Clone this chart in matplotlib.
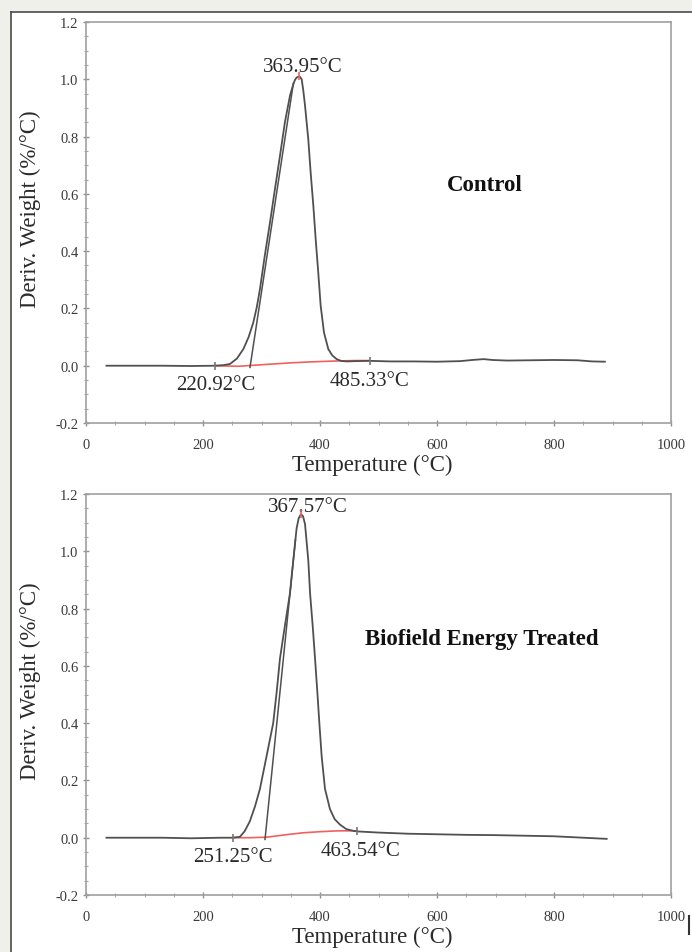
import matplotlib
matplotlib.use("Agg")
import matplotlib.pyplot as plt
from matplotlib.ticker import MultipleLocator
from matplotlib.lines import Line2D

# ---------------- data ----------------
# Control DTG curve
ctrl_T = [35, 80, 130, 180, 220, 235, 246, 258, 269, 278, 286, 292, 297.4, 305.6, 314.5,
          323, 331.6, 340, 348.7, 354, 357, 360, 363.95, 366, 368.7, 371.5, 374.4, 380,
          384, 388.6, 392.6, 397, 401.1, 406.8, 414.2, 421, 428.5, 436, 445.6, 460, 485,
          520, 560, 600, 640, 660, 680, 695, 720, 760, 800, 840, 865, 887]
ctrl_y = [0.0, 0.0, 0.0, -0.001, 0.0, 0.002, 0.006, 0.025, 0.058, 0.1, 0.151, 0.205, 0.268,
          0.384, 0.5, 0.617, 0.733, 0.85, 0.943, 0.98, 0.997, 1.006, 1.01, 1.008, 1.0,
          0.96, 0.908, 0.79, 0.675, 0.559, 0.442, 0.326, 0.21, 0.116, 0.058, 0.036, 0.023,
          0.017, 0.015, 0.016, 0.017, 0.015, 0.015, 0.014, 0.016, 0.02, 0.023, 0.02, 0.018,
          0.019, 0.02, 0.019, 0.015, 0.014]
ctrl_tan_T = [280.3, 354.4]
ctrl_tan_y = [-0.006, 0.985]
ctrl_base_T = [220.92, 260, 290, 320, 350, 380, 420, 460, 485.33]
ctrl_base_y = [0.0, -0.002, 0.002, 0.006, 0.01, 0.013, 0.016, 0.018, 0.018]
ctrl_peak = (363.95, 1.01)
ctrl_onset = 220.92
ctrl_end = 485.33

# Biofield Energy Treated DTG curve
trt_T = [35, 80, 130, 180, 230, 250, 263, 271, 280, 289, 297.4, 308.7, 320, 326, 331.6,
         340, 348.7, 354.4, 360, 363.5, 367.57, 371, 374.4, 380, 383, 387.5, 391.5, 395.4,
         398.9, 402.8, 408.5, 417, 425, 434, 445, 457, 463.54, 500, 550, 600, 650, 700,
         750, 800, 850, 890]
trt_y = [0.0, 0.0, 0.0, -0.002, 0.0, 0.0, 0.003, 0.022, 0.057, 0.11, 0.171, 0.285, 0.4,
         0.51, 0.626, 0.74, 0.854, 0.97, 1.08, 1.115, 1.13, 1.122, 1.095, 0.968, 0.854,
         0.74, 0.626, 0.51, 0.4, 0.285, 0.171, 0.1, 0.065, 0.046, 0.03, 0.024, 0.022,
         0.018, 0.014, 0.012, 0.01, 0.009, 0.007, 0.005, 0.0, -0.004]
trt_tan_T = [306, 358]
trt_tan_y = [-0.006, 1.04]
trt_base_T = [251.25, 280, 310, 340, 370, 400, 430, 463.54]
trt_base_y = [0.0, 0.0, 0.002, 0.01, 0.017, 0.021, 0.024, 0.024]
trt_peak = (367.57, 1.13)
trt_onset = 251.25
trt_end = 463.54

xticks = [0, 200, 400, 600, 800, 1000]
yticks = [-0.2, 0.0, 0.2, 0.4, 0.6, 0.8, 1.0, 1.2]
ytick_labels = ["-0.2", "0.0", "0.2", "0.4", "0.6", "0.8", "1.0", "1.2"]

# ---------------- style ----------------
plt.rcParams['font.family'] = ['Liberation Serif', 'DejaVu Serif']
W, H = 692, 953
fig = plt.figure(figsize=(W / 100, H / 100), dpi=100)
fig.patch.set_facecolor('#eff0ea')

# white inner panel with dark border (left and top visible)
fig.patches.append(plt.Rectangle((11 / W, 0), 1 - 11 / W, 1 - 13 / H, transform=fig.transFigure,
                                 facecolor='white', edgecolor='none', zorder=-10))
fig.lines.append(Line2D([11 / W, 11 / W], [0, 1 - 13 / H], transform=fig.transFigure,
                        color='#4a4a4a', lw=1.2))
fig.lines.append(Line2D([11 / W, 1], [1 - 13 / H, 1 - 13 / H], transform=fig.transFigure,
                        color='#4a4a4a', lw=1.2))
fig.lines.append(Line2D([689 / W, 689 / W], [18 / H, 36 / H], transform=fig.transFigure,
                        color='#333333', lw=1.5))

curve_col = '#505050'
red = '#f06060'
text_col = '#2a2a2a'


def panel(rect, T, y, tanT, tany, bT, by, peak, onset, end, peak_lbl, peak_lbl_pos,
          on_lbl, on_pos, end_lbl, end_pos, title, title_pos):
    ax = fig.add_axes(rect)
    ax.set_xlim(0, 1000)
    ax.set_ylim(-0.2, 1.2)
    for s in ax.spines.values():
        s.set_color('#a0a0a0')
        s.set_linewidth(1.2)
    ax.xaxis.set_minor_locator(MultipleLocator(50))
    ax.yaxis.set_minor_locator(MultipleLocator(0.05))
    ax.set_xticks(xticks)
    ax.set_yticks(yticks)
    ax.set_yticklabels(ytick_labels)
    ax.tick_params(which='major', direction='inout', length=5, width=1, color='#909090',
                   labelsize=10.5, labelcolor='#3a3a3a', pad=3)
    ax.tick_params(which='minor', direction='inout', length=3, width=0.8, color='#a8a8a8')
    ax.tick_params(axis='x', which='major', pad=8)
    ax.set_xlabel('Temperature (°C)', fontsize=16.5, color=text_col)
    ax.set_ylabel('Deriv. Weight (%/°C)', fontsize=16.5, color=text_col)
    ax.yaxis.label.set_va('center')
    ax.yaxis.set_label_coords(-0.095, 0.535)
    ax.xaxis.set_label_coords(0.49, -0.078)

    ax.plot(bT, by, color=red, lw=1.2, zorder=2)
    ax.plot(T, y, color=curve_col, lw=1.3, zorder=3)
    ax.plot(tanT, tany, color=curve_col, lw=1.1, zorder=3)
    ax.plot([peak[0]], [peak[1]], marker='|', color=red, ms=6, mew=1.2, zorder=4)
    ax.plot([onset], [by[0]], marker='|', color='#777777', ms=6, mew=1.2, zorder=4)
    ax.plot([end], [by[-1]], marker='|', color='#777777', ms=6, mew=1.2, zorder=4)

    ax.text(peak_lbl_pos[0], peak_lbl_pos[1], peak_lbl, ha='center', va='center',
            fontsize=15, color=text_col)
    ax.text(on_pos[0], on_pos[1], on_lbl, ha='center', va='center', fontsize=15, color=text_col)
    ax.text(end_pos[0], end_pos[1], end_lbl, ha='center', va='center', fontsize=15, color=text_col)
    ax.text(title_pos[0], title_pos[1], title, ha='center', va='center', fontsize=16.5,
            fontweight='bold', color='#111111')
    return ax


panel([86 / W, 1 - 424 / H, 585 / W, 401 / H], ctrl_T, ctrl_y, ctrl_tan_T, ctrl_tan_y,
      ctrl_base_T, ctrl_base_y, ctrl_peak, ctrl_onset, ctrl_end,
      '363.95°C', (370, 1.045), '220.92°C', (222, -0.064), '485.33°C', (484, -0.052),
      'Control', (682, 0.634))

panel([86 / W, 1 - 896 / H, 585 / W, 401 / H], trt_T, trt_y, trt_tan_T, trt_tan_y,
      trt_base_T, trt_base_y, trt_peak, trt_onset, trt_end,
      '367.57°C', (379, 1.156), '251.25°C', (251, -0.066), '463.54°C', (470, -0.043),
      'Biofield Energy Treated', (677, 0.697))

fig.savefig('out.png', dpi=100, facecolor=fig.get_facecolor())
